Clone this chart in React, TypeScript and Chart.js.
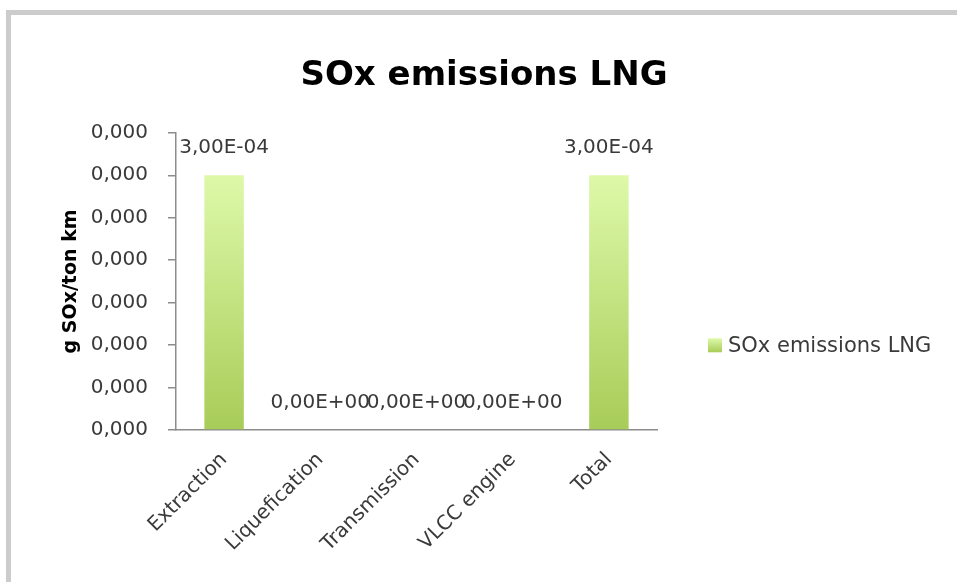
import React, { useEffect, useRef } from "react";
import { Chart, registerables } from "chart.js";

Chart.register(...registerables);

const categories = ["Extraction", "Liquefication", "Transmission", "VLCC engine", "Total"];
const seriesName = "SOx emissions LNG";
const seriesValues = [0.0003, 0, 0, 0, 0.0003];
const yMin = 0;
const yMax = 0.00035;
const yStep = 0.00005;
const chartTitle = "SOx emissions LNG";
const yTitle = "g SOx/ton km";

const FONT = "'DejaVu Sans', sans-serif";
const BAR_TOP = "#ddf9a9";
const BAR_BOTTOM = "#a8cc58";
const TEXT = "#3a3a3a";

const fmtTick = (v: number) => v.toFixed(3).replace(".", ",");
const fmtLabel = (v: number) => {
  const s = v.toExponential(2);
  const [mant, exp] = s.split("e");
  const sign = exp.startsWith("-") ? "-" : "+";
  const digits = exp.replace(/^[-+]/, "").padStart(2, "0");
  return mant.replace(".", ",") + "E" + sign + digits;
};

const dataLabels = {
  id: "dataLabels",
  afterDatasetsDraw(chart: any) {
    const ctx = chart.ctx;
    const meta = chart.getDatasetMeta(0);
    const ds = chart.data.datasets[0];
    ctx.save();
    ctx.font = `20px ${FONT}`;
    ctx.fillStyle = TEXT;
    ctx.textAlign = "center";
    ctx.textBaseline = "middle";
    meta.data.forEach((bar: any, i: number) => {
      ctx.fillText(fmtLabel(ds.data[i]), bar.x, bar.y - 27);
    });
    ctx.restore();
  },
};

const sideLegend = {
  id: "sideLegend",
  afterDraw(chart: any) {
    const ctx = chart.ctx;
    const a = chart.chartArea;
    const x = a.right + 51;
    const cy = a.top + (a.bottom - a.top) * 0.715;
    const size = 14;
    ctx.save();
    const g = ctx.createLinearGradient(0, cy - size / 2, 0, cy + size / 2);
    g.addColorStop(0, BAR_TOP);
    g.addColorStop(1, BAR_BOTTOM);
    ctx.fillStyle = g;
    ctx.fillRect(x, cy - size / 2, size, size);
    ctx.font = `21px ${FONT}`;
    ctx.fillStyle = TEXT;
    ctx.textAlign = "left";
    ctx.textBaseline = "middle";
    ctx.fillText(chart.data.datasets[0].label, x + size + 6, cy + 1);
    ctx.restore();
  },
};

export default function App() {
  const ref = useRef<HTMLCanvasElement>(null);
  useEffect(() => {
    if (!ref.current) return;
    const chart = new Chart(ref.current, {
      type: "bar",
      data: {
        labels: categories,
        datasets: [
          {
            label: seriesName,
            data: seriesValues,
            backgroundColor: (c: any) => {
              const ch = c.chart;
              const y = ch.scales?.y;
              if (!y) return BAR_BOTTOM;
              const y0 = y.getPixelForValue(0.0003);
              const y1 = y.getPixelForValue(0);
              if (!isFinite(y0) || !isFinite(y1) || y0 === y1) return BAR_BOTTOM;
              const g = ch.ctx.createLinearGradient(0, y0, 0, y1);
              g.addColorStop(0, BAR_TOP);
              g.addColorStop(1, BAR_BOTTOM);
              return g;
            },
            borderWidth: 0,
            barPercentage: 0.41,
            categoryPercentage: 1,
          },
        ],
      },
      options: {
        responsive: false,
        animation: false,
        layout: { padding: { left: 11, right: 0, top: 0, bottom: 0 } },
        plugins: {
          title: {
            display: true,
            text: chartTitle,
            color: "#000",
            font: { family: FONT, size: 34, weight: "bold" },
            padding: { top: 56, bottom: 36 },
          },
          legend: { display: false },
          tooltip: { enabled: false },
        },
        scales: {
          x: {
            grid: { display: false, drawTicks: false },
            border: { display: true, color: "#8c8c8c", width: 1.5 },
            ticks: {
              color: TEXT,
              font: { family: FONT, size: 20 },
              maxRotation: 45,
              minRotation: 45,
              padding: 18,
              autoSkip: false,
            },
            afterFit: (s: any) => {
              s.height = 152;
            },
          },
          y: {
            min: yMin,
            max: yMax,
            grid: { display: true, drawOnChartArea: false, drawTicks: true, tickLength: 8, color: "#8c8c8c", lineWidth: 1.5 },
            border: { display: true, color: "#8c8c8c", width: 1.5 },
            ticks: {
              stepSize: yStep,
              color: TEXT,
              font: { family: FONT, size: 20 },
              padding: 20,
              callback: (v: any) => fmtTick(Number(v)),
            },
            title: {
              display: true,
              text: yTitle,
              color: "#000",
              font: { family: FONT, size: 19, weight: "bold" },
              padding: { top: 49, bottom: 4 },
            },
            afterFit: (s: any) => {
              s.width = 165;
            },
          },
          legendSpace: {
            type: "linear",
            position: "right",
            display: true,
            min: 0,
            max: 1,
            grid: { display: false, drawTicks: false },
            border: { display: false },
            ticks: { display: false },
            afterFit: (s: any) => {
              s.width = 300;
            },
          },
        },
      },
      plugins: [dataLabels, sideLegend],
    });
    return () => chart.destroy();
  }, []);

  return (
    <div style={{ position: "fixed", left: 0, top: 0, width: 957, height: 582, background: "#fff", overflow: "hidden" }}>
      <div
        style={{
          position: "absolute",
          left: 6,
          top: 10,
          right: -10,
          bottom: -10,
          borderTop: "5px solid #cccccc",
          borderLeft: "5px solid #cccccc",
        }}
      />
      <canvas ref={ref} width={957} height={582} style={{ position: "absolute", left: 0, top: 0 }} />
    </div>
  );
}
